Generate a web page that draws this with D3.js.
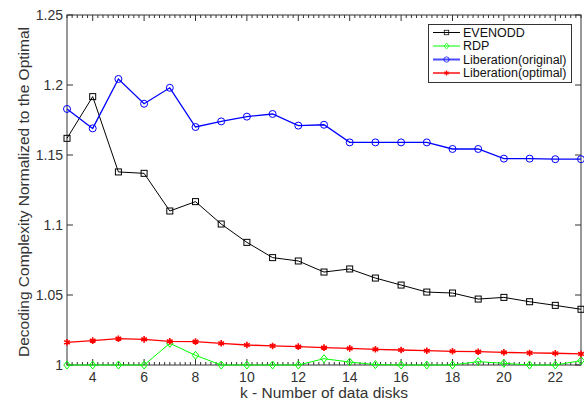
<!DOCTYPE html>
<html>
<head>
<meta charset="utf-8">
<script src="https://cdn.jsdelivr.net/npm/d3@7"></script>
<style>
  body { margin: 0; background: #fff; }
  svg text { font-family: "Liberation Sans", Arial, sans-serif; fill: #333; }
</style>
</head>
<body>
<svg id="chart" width="584" height="403"></svg>
<script>
// ── DATA ────────────────────────────────────────────
const K = [3, 4, 5, 6, 7, 8, 9, 10, 11, 12, 13, 14, 15, 16, 17, 18, 19, 20, 21, 22, 23];
const EVENODD = [1.1619, 1.1917, 1.1379, 1.1369, 1.1100, 1.1167, 1.1007, 1.0876, 1.0767, 1.0743, 1.0664,
                 1.0686, 1.0621, 1.0571, 1.0521, 1.0514, 1.0471, 1.0483, 1.0452, 1.0426, 1.0398];
const RDP = [1.0, 1.0, 1.0, 1.0, 1.0155, 1.0069, 1.0, 1.0, 1.0, 1.0, 1.0045,
             1.0021, 1.0003, 1.0, 1.0, 1.0, 1.0024, 1.0012, 1.0, 1.0, 1.0031];
const LIB_ORIG = [1.1829, 1.1690, 1.2043, 1.1866, 1.1980, 1.1700, 1.1740, 1.1774, 1.1793, 1.1710, 1.1716,
                  1.1590, 1.1590, 1.1590, 1.1590, 1.1543, 1.1543, 1.1474, 1.1474, 1.1470, 1.1470];
const LIB_OPT = [1.0162, 1.0174, 1.0188, 1.0183, 1.0169, 1.0167, 1.0155, 1.0143, 1.0136, 1.0131, 1.0124,
                 1.0119, 1.0112, 1.0107, 1.0102, 1.0098, 1.0095, 1.0090, 1.0086, 1.0084, 1.0079];
const X_TICKS = [4, 6, 8, 10, 12, 14, 16, 18, 20, 22];
const Y_TICKS = [1, 1.05, 1.1, 1.15, 1.2, 1.25];

const SERIES = [
  { name: 'EVENODD',              values: EVENODD,  color: '#000000', marker: 'square',  width: 1 },
  { name: 'RDP',                  values: RDP,      color: '#00ff00', marker: 'diamond', width: 1 },
  { name: 'Liberation(original)', values: LIB_ORIG, color: '#0000ff', marker: 'circle',  width: 1.3 },
  { name: 'Liberation(optimal)',  values: LIB_OPT,  color: '#ff0000', marker: 'star',    width: 1.3 }
];

// ── LAYOUT ──────────────────────────────────────────
const M = { left: 67, right: 581, top: 15, bottom: 365 };
const svg = d3.select('#chart');

const x = d3.scaleLinear().domain([3, 23]).range([M.left, M.right]);
const y = d3.scaleLinear().domain([1, 1.25]).range([M.bottom, M.top]);

const axisCol = '#333';

// minor ticks top + bottom (every 0.2)
const minor = d3.range(3, 23.001, 0.2);
const ticksG = svg.append('g');
minor.forEach(v => {
  const isMajor = Math.abs(v - Math.round(v)) < 1e-6 && Math.round(v) % 2 === 0;
  const len = isMajor ? 6 : 3;
  ticksG.append('line').attr('x1', x(v)).attr('x2', x(v))
    .attr('y1', M.bottom).attr('y2', M.bottom - len)
    .attr('stroke', axisCol).attr('stroke-width', 1);
  ticksG.append('line').attr('x1', x(v)).attr('x2', x(v))
    .attr('y1', M.top).attr('y2', M.top + len)
    .attr('stroke', axisCol).attr('stroke-width', 1);
});
Y_TICKS.forEach(v => {
  ticksG.append('line').attr('x1', M.left).attr('x2', M.left + 6)
    .attr('y1', y(v)).attr('y2', y(v)).attr('stroke', axisCol);
  ticksG.append('line').attr('x1', M.right).attr('x2', M.right - 6)
    .attr('y1', y(v)).attr('y2', y(v)).attr('stroke', axisCol);
});

// frame
svg.append('rect')
  .attr('x', M.left).attr('y', M.top)
  .attr('width', M.right - M.left).attr('height', M.bottom - M.top)
  .attr('fill', 'none').attr('stroke', axisCol).attr('stroke-width', 1);

// tick labels
svg.append('g').selectAll('text').data(X_TICKS).enter().append('text')
  .attr('x', d => x(d)).attr('y', M.bottom + 17)
  .attr('text-anchor', 'middle').attr('font-size', '14px')
  .text(d => d);
svg.append('g').selectAll('text').data(Y_TICKS).enter().append('text')
  .attr('x', M.left - 4).attr('y', d => y(d)).attr('dy', '0.35em')
  .attr('text-anchor', 'end').attr('font-size', '14px')
  .text(d => d3.format('')(+d.toFixed(2)));

// axis titles
svg.append('text')
  .attr('x', (M.left + M.right) / 2).attr('y', 398)
  .attr('text-anchor', 'middle').attr('font-size', '15.5px')
  .text('k - Number of data disks');
svg.append('text')
  .attr('transform', `translate(29,${(M.top + M.bottom) / 2 + 2}) rotate(-90)`)
  .attr('text-anchor', 'middle').attr('font-size', '15.5px')
  .text('Decoding Complexity Normalized to the Optimal');

// ── MARKERS ─────────────────────────────────────────
function drawMarker(g, kind, color) {
  if (kind === 'square') {
    g.append('rect').attr('x', -3).attr('y', -3).attr('width', 6).attr('height', 6)
      .attr('fill', 'none').attr('stroke', color).attr('stroke-width', 1);
  } else if (kind === 'diamond') {
    g.append('path').attr('d', 'M0,-4L3.2,0L0,4L-3.2,0Z')
      .attr('fill', 'none').attr('stroke', color).attr('stroke-width', 1);
  } else if (kind === 'circle') {
    g.append('circle').attr('r', 3.5)
      .attr('fill', 'none').attr('stroke', color).attr('stroke-width', 1);
  } else if (kind === 'star') {
    g.append('path').attr('d', d3.symbol(d3.symbolAsterisk, 30)())
      .attr('fill', 'none').attr('stroke', color).attr('stroke-width', 1.6);
  }
}

svg.append('defs').append('clipPath').attr('id', 'plot-clip')
  .append('rect').attr('x', M.left - 6).attr('y', M.top - 6)
  .attr('width', M.right - M.left + 12).attr('height', M.bottom - M.top + 12);

const line = d3.line().x(d => x(d.k)).y(d => y(d.v));
const plotG = svg.append('g').attr('clip-path', 'url(#plot-clip)');

SERIES.forEach(s => {
  const pts = K.map((k, i) => ({ k, v: s.values[i] }));
  plotG.append('path').datum(pts)
    .attr('d', line).attr('fill', 'none')
    .attr('stroke', s.color).attr('stroke-width', s.width);
  pts.forEach(p => {
    drawMarker(plotG.append('g').attr('transform', `translate(${x(p.k)},${y(p.v)})`), s.marker, s.color);
  });
});

// ── LEGEND ──────────────────────────────────────────
const lg = svg.append('g');
lg.append('rect').attr('x', 428.5).attr('y', 24.5).attr('width', 143).attr('height', 58)
  .attr('fill', '#fff').attr('stroke', axisCol).attr('stroke-width', 1);
SERIES.forEach((s, i) => {
  const ly = 32.5 + i * 13.5;
  lg.append('line').attr('x1', 433).attr('x2', 460).attr('y1', ly).attr('y2', ly)
    .attr('stroke', s.color).attr('stroke-width', s.width === 1 ? 1 : 2).attr('opacity', s.width === 1 ? 1 : 0.7);
  drawMarker(lg.append('g').attr('transform', `translate(446.5,${ly}) scale(0.75)`), s.marker, s.color);
  lg.append('text').attr('x', 463).attr('y', ly).attr('dy', '0.35em')
    .attr('font-size', '12.5px').style('fill', '#111').text(s.name);
});
</script>
</body>
</html>
